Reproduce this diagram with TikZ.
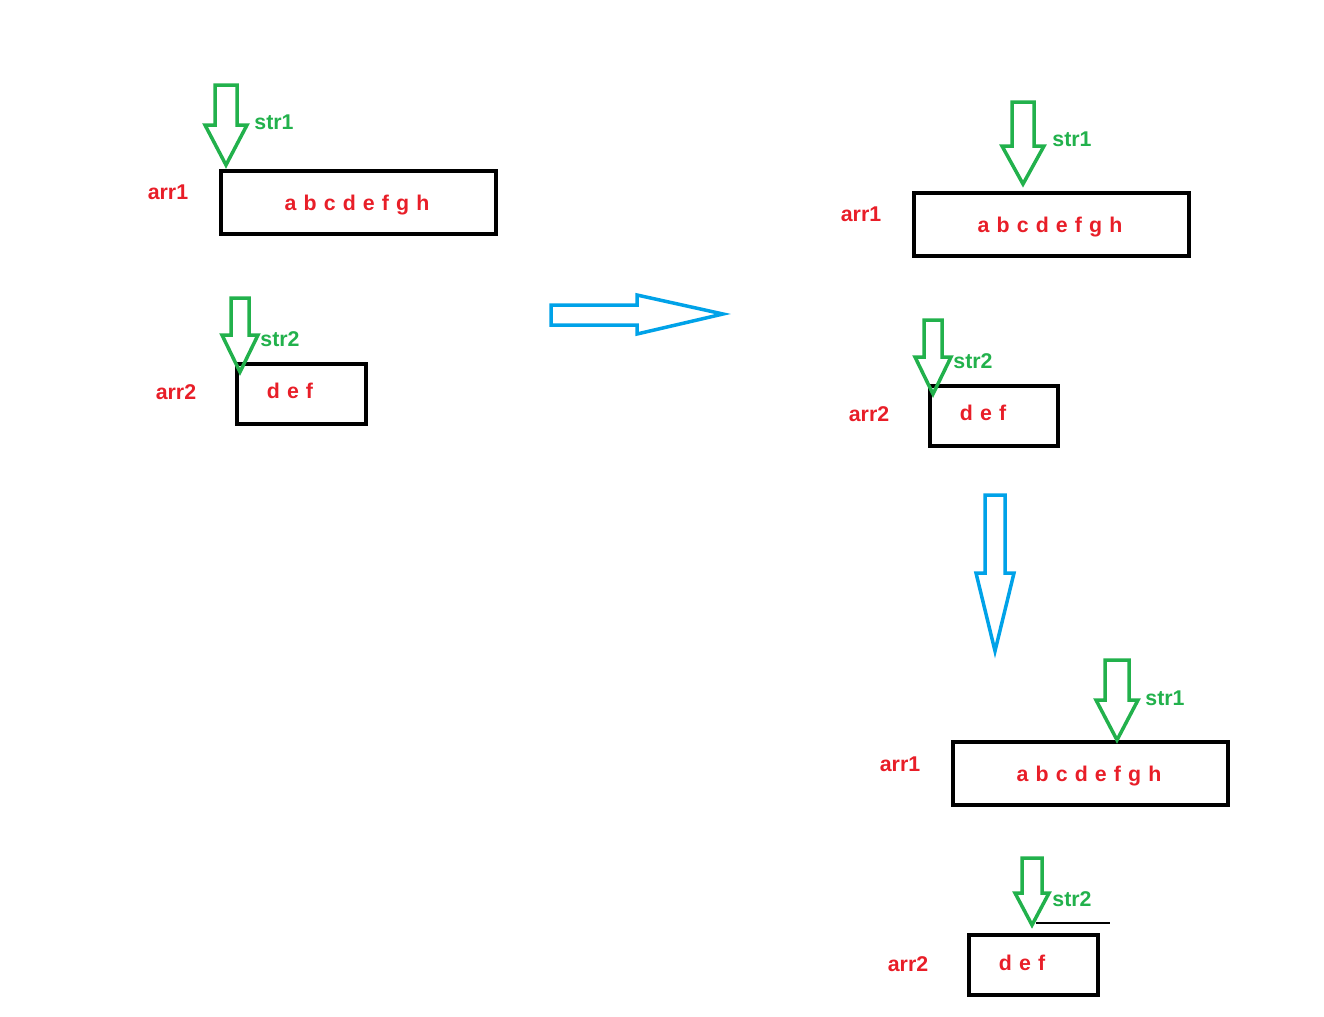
\documentclass[tikz,border=0pt]{standalone}
\usepackage{fontspec}
\setmainfont{Liberation Sans}
\definecolor{tred}{RGB}{232,30,40}
\definecolor{tgreen}{RGB}{34,177,76}
\definecolor{tblue}{RGB}{0,162,232}
\newcommand\myDownArrow[7]{% color, cx, top, headtop, tip, shaft half, head half
  \draw[#1,line width=3.5pt*0.75,line join=miter] (#2-#6,#3) -- (#2+#6,#3) -- (#2+#6,#4) -- (#2+#7,#4) -- (#2,#5) -- (#2-#7,#4) -- (#2-#6,#4) -- cycle;}
\begin{document}
\begin{tikzpicture}[x=0.75pt,y=-0.75pt,
  box/.style={draw=black,line width=3.5pt*0.75},
  txt/.style={text=tred,font=\bfseries\fontsize{16}{18}\selectfont},
  lab/.style={text=tgreen,font=\bfseries\fontsize{16}{18}\selectfont}]
\useasboundingbox (0,0) rectangle (1324,1017);
% group 1
\draw[box] (221,171) rectangle (496,234);
\node[txt] (g1a) at (357,205) {a\,\,b\,\,c\,\,d\,\,e\,\,f\,\,g\,\,h};
\node[txt] (g1l1) at (168,192) {arr1};
\myDownArrow{tgreen}{226}{85}{125}{165}{11}{21}
\node[lab] (g1s1) at (274,122) {str1};
\draw[box] (237,364) rectangle (366,424);
\node[txt] (g1b) at (290,391) {d\,\,e\,\,f};
\node[txt] (g1l2) at (176,392) {arr2};
\myDownArrow{tgreen}{240}{298}{335}{372}{9}{18}
\node[lab] (g1s2) at (280,339) {str2};
% right arrow
\draw[tblue,line width=3.5pt*0.75] (551,305) -- (637,305) -- (637,295) -- (723,314) -- (637,334) -- (637,325) -- (551,325) -- cycle;
% group 2
\draw[box] (914,193) rectangle (1189,256);
\node[txt] (g2a) at (1050,227) {a\,\,b\,\,c\,\,d\,\,e\,\,f\,\,g\,\,h};
\node[txt] (g2l1) at (861,214) {arr1};
\myDownArrow{tgreen}{1023}{102}{146}{184}{11}{21}
\node[lab] (g2s1) at (1072,139) {str1};
\draw[box] (930,386) rectangle (1058,446);
\node[txt] (g2b) at (983,413) {d\,\,e\,\,f};
\node[txt] (g2l2) at (869,414) {arr2};
\myDownArrow{tgreen}{933}{320}{357}{394}{9}{18}
\node[lab] (g2s2) at (973,361) {str2};
% down arrow
\myDownArrow{tblue}{995}{495}{573}{651}{10}{19}
% group 3
\draw[box] (953,742) rectangle (1228,805);
\node[txt] (g3a) at (1089,776) {a\,\,b\,\,c\,\,d\,\,e\,\,f\,\,g\,\,h};
\node[txt] (g3l1) at (900,764) {arr1};
\myDownArrow{tgreen}{1117}{660}{700}{740}{12}{21}
\node[lab] (g3s1) at (1165,698) {str1};
\draw[box] (969,935) rectangle (1098,995);
\node[txt] (g3b) at (1022,963) {d\,\,e\,\,f};
\node[txt] (g3l2) at (908,964) {arr2};
\myDownArrow{tgreen}{1032}{858}{893}{925}{10}{17}
\node[lab] (g3s2) at (1072,899) {str2};
\draw[black,line width=2.5pt*0.75] (1036,923) -- (1110,923);
\end{tikzpicture}
\end{document}
